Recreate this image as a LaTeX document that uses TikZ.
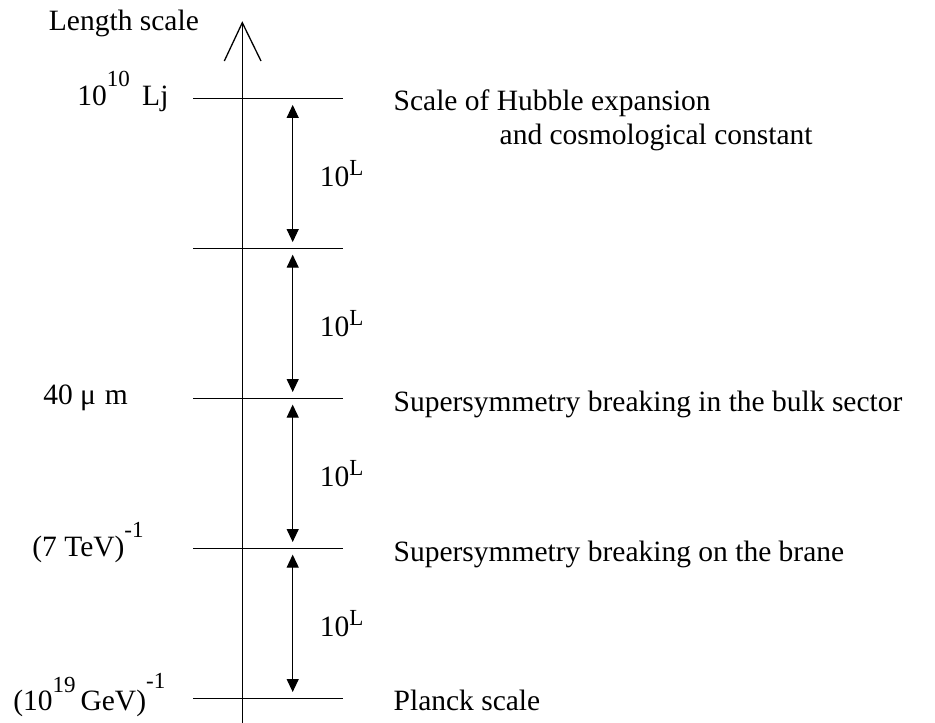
\documentclass[tikz,border=0pt]{standalone}
\usepackage{fontspec}
\setmainfont{Liberation Serif}
\usetikzlibrary{arrows.meta}

% 上标：抬高后缩小字号
\newcommand{\upidx}[2][0.64em]{\raisebox{#1}{\fontsize{23}{25}\selectfont #2}}

\begin{document}
\begin{tikzpicture}[x=1pt, y=-1pt, line width=1.3pt,
  span/.style={<->, >={Triangle[width=12pt,length=13pt]}, line width=1.2pt, shorten >=6.3pt, shorten <=6.3pt},
  txt/.style={inner sep=0pt, anchor=base west, font=\fontsize{29.5}{36}\selectfont}]

  %% ════ 坐标轴（开口箭头）════
  \coordinate (axbot) at (242.3,723);
  \coordinate (axtop) at (242.3,22.7);
  \draw (axbot) -- (axtop);
  \draw ([shift={(-18,38.3)}]axtop) -- (axtop) -- ([shift={(18.7,38.3)}]axtop);
  \node[txt] (axname) at (48.3,30.5) {Length scale};

  %% ════ 刻度线 ════
  \foreach \i/\y in {0/98.6, 1/248.4, 2/398.3, 3/548.3, 4/698.3} {
    \coordinate (l\i) at (193,\y);
    \coordinate (r\i) at (343,\y);
    \coordinate (a\i) at (292.7,\y);
    \draw (l\i) -- (r\i);
  }

  %% ════ 双向箭头 + 10^L ════
  \foreach \i/\j/\y in {0/1/186, 1/2/336, 2/3/486, 3/4/636} {
    \draw[span] (a\i) -- (a\j);
    \node[txt] (gap\i) at (319.3,\y) {10\upidx[0.34em]{L}};
  }

  %% ════ 左侧标签 ════
  \node[txt] (lhub)  at (76.7,105)   {10\upidx{10}\hspace{0.42em}Lj};
  \node[txt] (lbulk) at (42.7,404.3) {40 μ\hspace{0.3em}m};
  \node[txt] (lbrn)  at (31.7,556)   {(7 TeV)\upidx{-1}};
  \node[txt] (lpl)   at (12.7,710)   {(10\upidx[0.58em]{19}\,GeV)\upidx[0.72em]{-1}};

  %% ════ 右侧标签 ════
  \node[txt] (rhub)  at (393,110)   {Scale of Hubble expansion};
  \node[txt] (rhub2) at (499,144.5) {and cosmological constant};
  \node[txt] (rbulk) at (393,411.7) {Supersymmetry breaking in the bulk sector};
  \node[txt] (rbrn)  at (393,561.7) {Supersymmetry breaking on the brane};
  \node[txt] (rpl)   at (393,710)   {Planck scale};

  % 钉死画布
  \pgfresetboundingbox
  \path[use as bounding box] (0,0) rectangle (935,723);
\end{tikzpicture}
\end{document}
